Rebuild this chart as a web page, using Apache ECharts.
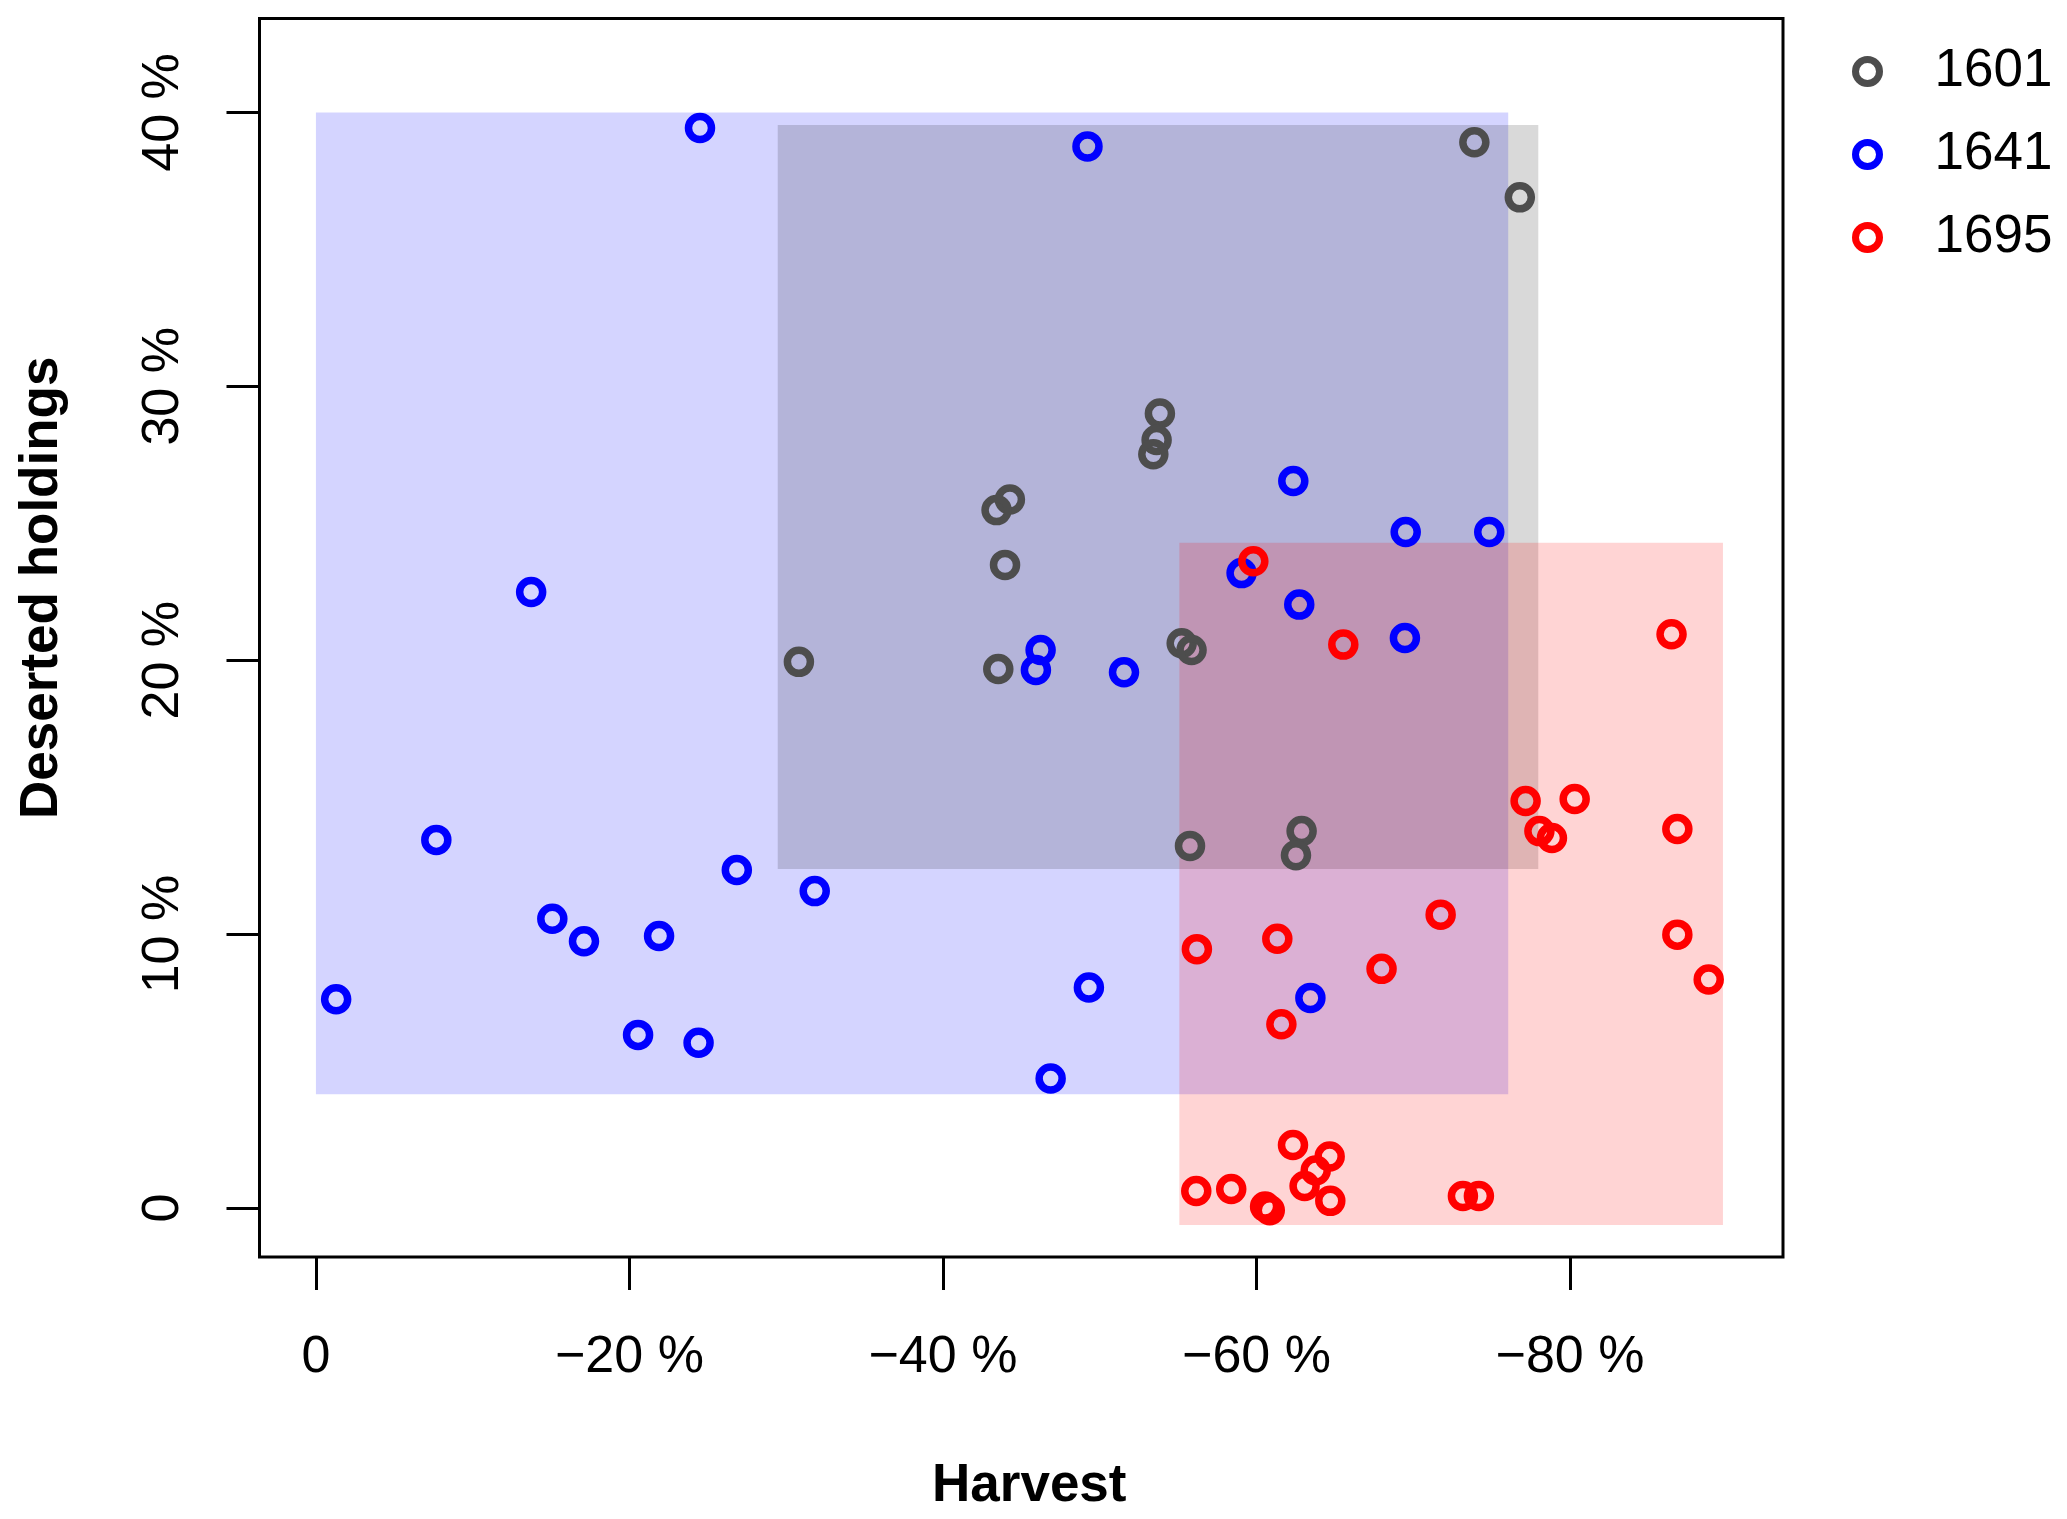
<!DOCTYPE html>
<html><head><meta charset="utf-8">
<script src="https://cdn.jsdelivr.net/npm/echarts@6/dist/echarts.min.js"></script>
<style>html,body{margin:0;padding:0;background:#fff}#c{width:2067px;height:1519px}</style>
</head><body><div id="c"></div>
<script>
// ---- data ----
const years = ['1601', '1641', '1695'];

const harvest1601  = [-73.9, -76.8, -53.84, -53.63, -53.42, -44.27, -43.42, -43.96, -30.81, -43.53, -55.23, -55.86, -55.76, -62.88, -62.52];
const deserted1601 = [38.91, 36.9, 29.01, 28.04, 27.52, 25.87, 25.48, 23.48, 19.94, 19.68, 20.62, 20.37, 13.22, 13.76, 12.88];

const harvest1641  = [-24.5, -49.22, -13.73, -62.35, -69.52, -74.85, -59.05, -62.73, -46.23, -45.93, -51.55, -69.47, -7.68, -26.85, -31.82, -15.08, -17.1, -21.89, -1.29, -20.55, -24.41, -49.31, -46.87, -63.44];
const deserted1641 = [39.43, 38.76, 22.49, 26.54, 24.68, 24.68, 23.18, 22.03, 20.37, 19.64, 19.56, 20.81, 13.44, 12.34, 11.57, 10.56, 9.74, 9.93, 7.62, 6.32, 6.03, 8.05, 4.73, 7.67];

const harvest1695  = [-59.8, -65.54, -86.48, -77.17, -80.3, -78.05, -78.85, -86.85, -71.75, -56.2, -61.33, -67.98, -86.85, -88.85, -61.59, -62.33, -64.67, -63.78, -63.07, -64.71, -56.16, -58.39, -60.55, -60.85, -73.17, -74.19];
const deserted1695 = [23.61, 20.57, 20.95, 14.86, 14.93, 13.76, 13.51, 13.84, 10.71, 9.45, 9.83, 8.73, 9.98, 8.34, 6.71, 2.3, 1.88, 1.37, 0.8, 0.26, 0.62, 0.69, 0.05, -0.08, 0.44, 0.44];

// rectangles: [harvest from, harvest to, deserted from, deserted to]
const rect1641 = [0, -76.06, 4.15, 40.0];
const rect1601 = [-29.46, -77.98, 12.38, 39.54];
const rect1695 = [-55.08, -89.76, -0.62, 24.29];

const xTicks = [0, -20, -40, -60, -80];
const yTicks = [0, 10, 20, 30, 40];

// ---- styles ----
const FONT = '"Liberation Sans", Arial, Helvetica, sans-serif';
const pointColors = ['#4d4d4d', '#0000ff', '#ff0000'];
const rectColors = ['rgba(0,0,255,0.17)', 'rgba(0,0,0,0.15)', 'rgba(255,0,0,0.17)'];

function pct(v) {
  if (v === 0) return '0';
  return (v < 0 ? '\u2212' + Math.abs(v) : String(v)) + ' %';
}
function pairs(xs, ys) { return xs.map((x, i) => [x, ys[i]]); }

const chart = echarts.init(document.getElementById('c'), null, {renderer: 'canvas'});

const scatterSeries = [
  [harvest1601, deserted1601],
  [harvest1641, deserted1641],
  [harvest1695, deserted1695]
].map((d, i) => ({
  type: 'scatter',
  name: years[i],
  data: pairs(d[0], d[1]),
  symbol: 'circle',
  symbolSize: 23,
  z: 3,
  itemStyle: {color: 'rgba(0,0,0,0)', borderColor: pointColors[i], borderWidth: 7.5, opacity: 1},
  emphasis: {disabled: true},
  silent: true
}));

chart.setOption({
  animation: false,
  backgroundColor: '#fff',
  grid: {
    left: 259.5, top: 18.5, width: 1523.5, height: 1238.5,
    show: true, borderColor: '#000', borderWidth: 3, backgroundColor: 'rgba(0,0,0,0)'
  },
  xAxis: {
    type: 'value', min: -93.59, max: 3.6, inverse: true,
    name: 'Harvest', nameLocation: 'middle', nameGap: 203,
    nameTextStyle: {fontFamily: FONT, fontWeight: 'bold', fontSize: 53, color: '#000', padding: [0, 0, 0, 16]},
    axisLine: {show: false, onZero: false},
    axisTick: {show: true, inside: false, length: 33, customValues: xTicks, lineStyle: {color: '#000', width: 3}},
    axisLabel: {show: true, customValues: xTicks, margin: 75, formatter: pct, fontFamily: FONT, fontSize: 52, color: '#000'},
    splitLine: {show: false}
  },
  yAxis: {
    type: 'value', min: -1.79, max: 43.43,
    name: 'Deserted holdings', nameLocation: 'middle', nameGap: 191, nameRotate: 90,
    nameTextStyle: {fontFamily: FONT, fontWeight: 'bold', fontSize: 53, color: '#000', padding: [0, 0, 0, 100]},
    axisLine: {show: false, onZero: false},
    axisTick: {show: true, inside: false, length: 33, customValues: yTicks, lineStyle: {color: '#000', width: 3}},
    axisLabel: {show: true, customValues: yTicks, rotate: 90, margin: 70, formatter: pct, fontFamily: FONT, fontSize: 52, color: '#000'},
    splitLine: {show: false}
  },
  legend: {
    orient: 'vertical', left: 1852, top: 45, padding: 0, itemGap: 30,
    itemWidth: 24, itemHeight: 24, icon: 'circle', selectedMode: false,
    textStyle: {fontFamily: FONT, fontSize: 53, color: '#000', padding: [0, 0, 0, 50]},
    data: years.map((y, i) => ({
      name: y,
      itemStyle: {color: 'rgba(0,0,0,0)', borderColor: pointColors[i], borderWidth: 7}
    }))
  },
  series: [
    {
      type: 'custom',
      name: 'ranges',
      z: 1,
      silent: true,
      clip: false,
      encode: {x: [0, 1], y: [2, 3]},
      data: [rect1641, rect1601, rect1695],
      renderItem: function (params, api) {
        const p1 = api.coord([api.value(0), api.value(3)]);
        const p2 = api.coord([api.value(1), api.value(2)]);
        return {
          type: 'rect',
          shape: {
            x: Math.min(p1[0], p2[0]), y: Math.min(p1[1], p2[1]),
            width: Math.abs(p2[0] - p1[0]), height: Math.abs(p2[1] - p1[1])
          },
          style: {fill: rectColors[params.dataIndex]}
        };
      }
    }
  ].concat(scatterSeries)
});
</script>
</body></html>
